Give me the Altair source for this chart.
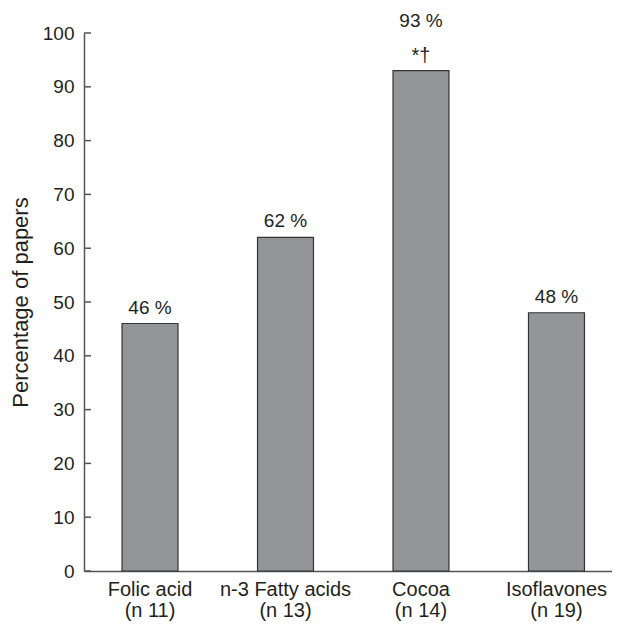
import altair as alt
import pandas as pd

categories = ["Folic acid", "n-3 Fatty acids", "Cocoa", "Isoflavones"]
n_values = [11, 13, 14, 19]
percentages = [46, 62, 93, 48]
notes = ["", "", "*†", ""]
y_ticks = [0, 10, 20, 30, 40, 50, 60, 70, 80, 90, 100]

axis_labels = [f"{c}\n(n {n})" for c, n in zip(categories, n_values)]
df = pd.DataFrame({
    "group": axis_labels,
    "value": percentages,
    "pct": [f"{p} %" for p in percentages],
    "note": notes,
})
ticks_df = pd.DataFrame({"value": y_ticks})

FONT = "Liberation Sans"
TEXT = "#231f20"
AXIS = "#555555"

x_scale = alt.Scale(paddingInner=0.587, paddingOuter=0.242, align=0.58)
y_scale = alt.Scale(domain=[0, 100], nice=False)

x_enc = alt.X(
    "group:N",
    sort=axis_labels,
    scale=x_scale,
    axis=alt.Axis(
        title=None, ticks=False, labelAngle=0, labelFontSize=20,
        labelPadding=8, labelLineHeight=21, labelColor=TEXT, labelFont=FONT,
        domainColor=AXIS, domainWidth=1.5, grid=False,
        labelExpr="split(datum.label, '\\n')",
    ),
)
y_enc = alt.Y(
    "value:Q", scale=y_scale,
    axis=alt.Axis(
        values=y_ticks, ticks=False, grid=False, labelFontSize=19,
        labelPadding=10, labelColor=TEXT, labelFont=FONT,
        domainColor=AXIS, domainWidth=1.5,
        title="Percentage of papers", titleFontSize=22, titleFont=FONT,
        titleFontWeight="normal", titleColor=TEXT, titlePadding=10,
    ),
)

bars = alt.Chart(df).mark_bar(color="#939598", stroke="#333333", strokeWidth=1.2).encode(
    x=x_enc,
    y=y_enc,
)

tick_rules = alt.Chart(ticks_df).mark_rule(color=AXIS, strokeWidth=1.5).encode(
    y=y_enc,
    x=alt.value(0),
    x2=alt.value(7),
)

labels_plain = alt.Chart(df).transform_filter("datum.note == ''").mark_text(
    fontSize=19, font=FONT, color=TEXT, baseline="alphabetic", dy=-10
).encode(x=x_enc, y=y_enc, text="pct:N")

labels_noted = alt.Chart(df).transform_filter("datum.note != ''").mark_text(
    fontSize=19, font=FONT, color=TEXT, baseline="alphabetic", dy=-44
).encode(x=x_enc, y=y_enc, text="pct:N")

notes_layer = alt.Chart(df).transform_filter("datum.note != ''").mark_text(
    fontSize=20, font=FONT, color=TEXT, baseline="alphabetic", dy=-9
).encode(x=x_enc, y=y_enc, text="note:N")

chart = alt.layer(bars, tick_rules, labels_plain, labels_noted, notes_layer).properties(
    width=528,
    height=538,
    background="white",
    autosize=alt.AutoSizeParams(type="none"),
    padding={"left": 76, "top": 25, "right": 0, "bottom": 51},
).configure_view(stroke=None)

chart.save("out.html", embed_options={"renderer": "svg", "actions": False})
